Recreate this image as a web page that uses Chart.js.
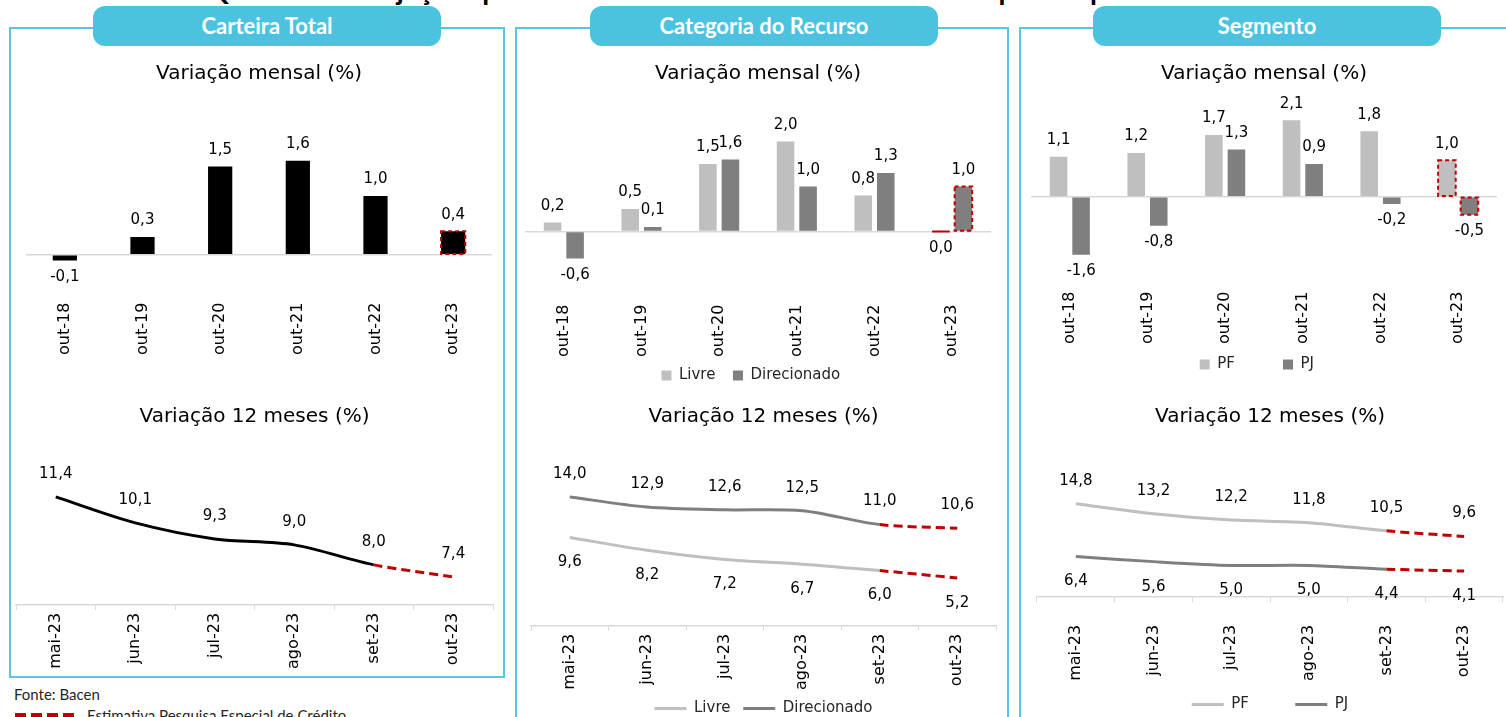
<!DOCTYPE html>
<html lang="pt-BR">
<head>
<meta charset="utf-8">
<title>Projeções para o saldo da carteira de crédito</title>
<script src="https://cdn.jsdelivr.net/npm/chart.js@4.4.0/dist/chart.umd.min.js"></script>
<style>
  html, body { margin: 0; padding: 0; background: #fff; }
  body { width: 1506px; height: 717px; position: relative; overflow: hidden; }
  .titulo { position: absolute; left: 0; top: -25px; width: 1506px; text-align: center;
            font: 700 28px/28px Lato, sans-serif; color: #000; white-space: nowrap; }
  .painel { position: absolute; top: 27px; border: 2px solid #5BC5E5; box-sizing: border-box; }
  .pill { position: absolute; top: 6px; width: 348px; height: 40px; border-radius: 12px;
          background: #4BC3E0; color: #fff; text-align: center; font: 700 22px/40px Lato, sans-serif; }
  canvas { position: absolute; }
  .fonte { position: absolute; left: 14px; top: 685px; font: 15px Lato, sans-serif; color: #262626; }
  .estimativa { position: absolute; left: 87px; top: 706px; font: 15px Lato, sans-serif; color: #262626; }
  .tracejado { position: absolute; left: 15px; top: 713px; width: 61px; height: 4px;
               background: repeating-linear-gradient(to right, #C00000 0 11px, transparent 11px 16px); }
</style>
</head>
<body>

<div class="titulo">Quadro 5 – Projeções para o Saldo da Carteira de Crédito – Pesquisa Especial de Crédito</div>

<div class="painel" style="left:9px; width:496px; height:651px;"></div>
<div class="painel" style="left:515px; width:494px; height:720px;"></div>
<div class="painel" style="left:1019px; width:520px; height:720px;"></div>

<div class="pill" style="left:93px;">Carteira Total</div>
<div class="pill" style="left:590px;">Categoria do Recurso</div>
<div class="pill" style="left:1093px;">Segmento</div>

<canvas id="c1a" width="488" height="305" style="left:12px; top:55px;"></canvas>
<canvas id="c2a" width="486" height="338" style="left:518px; top:55px;"></canvas>
<canvas id="c3a" width="482" height="327" style="left:1024px; top:55px;"></canvas>
<canvas id="c1b" width="488" height="276" style="left:12px; top:398px;"></canvas>
<canvas id="c2b" width="486" height="328" style="left:518px; top:398px;"></canvas>
<canvas id="c3b" width="482" height="324" style="left:1024px; top:398px;"></canvas>

<div class="fonte">Fonte: Bacen</div>
<div class="tracejado"></div>
<div class="estimativa">Estimativa Pesquisa Especial de Crédito</div>

<script>
// categorias
const mesesOutubro = ['out-18', 'out-19', 'out-20', 'out-21', 'out-22', 'out-23'];
const meses2023 = ['mai-23', 'jun-23', 'jul-23', 'ago-23', 'set-23', 'out-23'];

// carteira total
const totalMensal = [-0.1, 0.3, 1.5, 1.6, 1.0, 0.4];
const total12m = [11.4, 10.1, 9.3, 9.0, 8.0, 7.4];

// categoria do recurso
const livreMensal = [0.2, 0.5, 1.5, 2.0, 0.8, 0.0];
const direcMensal = [-0.6, 0.1, 1.6, 1.0, 1.3, 1.0];
const livre12m = [9.6, 8.2, 7.2, 6.7, 6.0, 5.2];
const direc12m = [14.0, 12.9, 12.6, 12.5, 11.0, 10.6];

// segmento
const pfMensal = [1.1, 1.2, 1.7, 2.1, 1.8, 1.0];
const pjMensal = [-1.6, -0.8, 1.3, 0.9, -0.2, -0.5];
const pf12m = [14.8, 13.2, 12.2, 11.8, 10.5, 9.6];
const pj12m = [6.4, 5.6, 5.0, 5.0, 4.4, 4.1];

const CINZA_CLARO = '#BFBFBF';
const CINZA_ESCURO = '#7F7F7F';
const VERMELHO = '#C00000';

Chart.defaults.font.family = "'DejaVu Sans', sans-serif";
Chart.defaults.color = '#000';
Chart.defaults.animation = false;

// caixa tracejada na ultima barra (estimativa)
const caixaEstimativa = {
    id: 'caixaEstimativa',
    afterDatasetsDraw(chart) {
        const ctx = chart.ctx;
        chart.data.datasets.forEach((ds, i) => {
            const meta = chart.getDatasetMeta(i);
            if (meta.type !== 'bar') return;
            const el = meta.data[meta.data.length - 1];
            const p = el.getProps(['x', 'y', 'base', 'width'], true);
            ctx.save();
            ctx.strokeStyle = VERMELHO;
            ctx.lineWidth = 2;
            ctx.setLineDash([4, 3]);
            ctx.strokeRect(p.x - p.width / 2, Math.min(p.y, p.base), p.width, Math.abs(p.base - p.y));
            ctx.restore();
        });
    }
};

// rotulos de valor com virgula
const rotulos = {
    id: 'rotulos',
    afterDatasetsDraw(chart) {
        const ctx = chart.ctx;
        chart.data.datasets.forEach((ds, i) => {
            const meta = chart.getDatasetMeta(i);
            meta.data.forEach((el, j) => {
                const v = ds.data[j];
                const txt = v.toFixed(1).replace('.', ',');
                ctx.save();
                ctx.font = "15px 'DejaVu Sans'";
                ctx.fillStyle = '#000';
                ctx.textAlign = 'center';
                let y;
                if (meta.type === 'bar') {
                    if (v > 0) {
                        ctx.textBaseline = 'bottom';
                        y = el.y - 9;
                    } else {
                        ctx.textBaseline = 'top';
                        y = Math.max(el.y, el.base) + 9;
                    }
                } else {
                    ctx.textBaseline = 'middle';
                    y = ds.rotulo === 'abaixo' ? el.y + 25 : el.y - 23;
                }
                ctx.fillText(txt, el.x, y);
                ctx.restore();
            });
        });
    }
};

function titulo(texto) {
    return {
        display: true,
        text: texto,
        color: '#000',
        font: { size: 20, weight: 'normal' },
        padding: { top: 7, bottom: 10 }
    };
}

function eixoRotulos() {
    return { maxRotation: 90, minRotation: 90, padding: 3, font: { size: 16 } };
}

function graficoBarras(id, datasets, yMin, yMax, pad, legenda) {
    return new Chart(document.getElementById(id), {
        type: 'bar',
        data: { labels: mesesOutubro, datasets: datasets },
        options: {
            responsive: false,
            layout: { padding: pad },
            plugins: {
                title: titulo('Variação mensal (%)'),
                legend: legenda || { display: false },
                tooltip: { enabled: false }
            },
            scales: {
                x: {
                    grid: { display: false },
                    border: { display: false },
                    ticks: eixoRotulos()
                },
                y: {
                    min: yMin,
                    max: yMax,
                    afterBuildTicks: s => { s.ticks = [{ value: 0 }]; },
                    ticks: { display: false },
                    border: { display: false },
                    grid: { drawTicks: false, color: '#D9D9D9', lineWidth: 1.5 }
                }
            }
        },
        plugins: [caixaEstimativa, rotulos]
    });
}

function serie(label, data, cor, rotulo) {
    const ultimo = data.length - 1;
    return {
        label: label,
        data: data,
        borderColor: cor,
        backgroundColor: cor,
        borderWidth: 3,
        pointRadius: 0,
        tension: 0.3,
        rotulo: rotulo,
        segment: {
            borderColor: c => c.p1DataIndex === ultimo ? VERMELHO : undefined,
            borderDash: c => c.p1DataIndex === ultimo ? [9, 5] : undefined
        }
    };
}

function graficoLinhas(id, datasets, yMin, yMax, pad, legenda, eixoNoZero) {
    const scales = {
        x: {
            offset: true,
            grid: { offset: true, drawOnChartArea: false, color: '#D9D9D9', tickLength: 5 },
            border: { display: true, color: '#D9D9D9', width: 1.5 },
            ticks: eixoRotulos()
        },
        y: { display: false, min: yMin, max: yMax }
    };
    if (eixoNoZero) {
        scales.x.position = { y: 0 };
        scales.x.ticks = { display: false };
        scales.x2 = {
            type: 'category',
            position: 'bottom',
            offset: true,
            grid: { display: false },
            border: { display: false },
            ticks: eixoRotulos()
        };
    }
    return new Chart(document.getElementById(id), {
        type: 'line',
        data: { labels: meses2023, datasets: datasets },
        options: {
            responsive: false,
            layout: { padding: pad },
            plugins: {
                title: titulo('Variação 12 meses (%)'),
                legend: legenda || { display: false },
                tooltip: { enabled: false }
            },
            scales: scales
        },
        plugins: [rotulos]
    });
}

// espacos entre os itens e no fim, para afastar e centralizar as entradas
function itensEspacados(entre, fim) {
    return chart => {
        const itens = Chart.defaults.plugins.legend.labels.generateLabels(chart);
        itens.forEach((it, i) => {
            it.text += ' '.repeat(i < itens.length - 1 ? entre : fim);
        });
        return itens;
    };
}

function legendaBarras(padding, entre, fim) {
    return {
        display: true,
        position: 'bottom',
        labels: {
            boxWidth: 10, boxHeight: 10, padding: padding, color: '#262626', font: { size: 15 },
            generateLabels: itensEspacados(entre, fim)
        }
    };
}

function legendaLinhas(padding, entre, fim) {
    return {
        display: true,
        position: 'bottom',
        labels: {
            usePointStyle: true, pointStyle: 'line', pointStyleWidth: 32, boxHeight: 10,
            padding: padding, color: '#262626', font: { size: 15 },
            generateLabels: itensEspacados(entre, fim)
        }
    };
}

// carteira total
graficoBarras('c1a', [
    { label: 'Total', data: totalMensal, backgroundColor: '#000', categoryPercentage: 0.8, barPercentage: 0.39 }
], -0.63, 2.7, { left: 14, right: 8, bottom: 2 });

graficoLinhas('c1b', [
    serie('Total', total12m, '#000', 'acima')
], 6, 14.3, { left: 4, right: 7, bottom: 2 });

// categoria do recurso
graficoBarras('c2a', [
    { label: 'Livre', data: livreMensal, backgroundColor: CINZA_CLARO, categoryPercentage: 0.58, barPercentage: 0.78 },
    { label: 'Direcionado', data: direcMensal, backgroundColor: CINZA_ESCURO, categoryPercentage: 0.58, barPercentage: 0.78 }
], -1.38, 3.01, { left: 7, right: 13 }, legendaBarras(8, 2, 3));

graficoLinhas('c2b', [
    serie('Livre', livre12m, CINZA_CLARO, 'abaixo'),
    serie('Direcionado', direc12m, CINZA_ESCURO, 'acima')
], 0, 20.3, { left: 13, right: 8 }, legendaLinhas(8, 1, 0));

// segmento
graficoBarras('c3a', [
    { label: 'PF', data: pfMensal, backgroundColor: CINZA_CLARO, categoryPercentage: 0.58, barPercentage: 0.78 },
    { label: 'PJ', data: pjMensal, backgroundColor: CINZA_ESCURO, categoryPercentage: 0.58, barPercentage: 0.78 }
], -2.31, 2.77, { left: 7, right: 9 }, legendaBarras(10, 8, 3));

graficoLinhas('c3b', [
    serie('PF', pf12m, CINZA_CLARO, 'acima'),
    serie('PJ', pj12m, CINZA_ESCURO, 'abaixo')
], -2.7, 25.1, { left: 13, right: 3 }, legendaLinhas(13, 7, 0), true);
</script>
</body>
</html>
